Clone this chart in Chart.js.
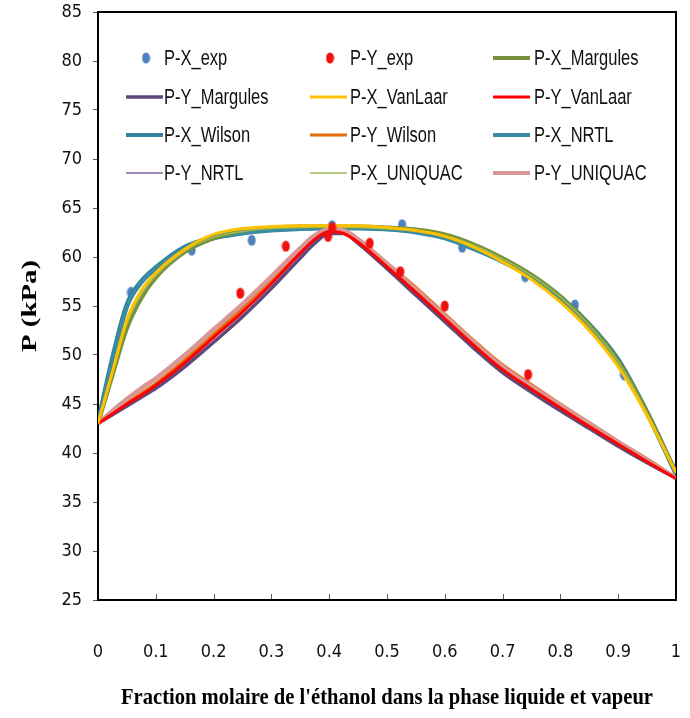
<!DOCTYPE html>
<html>
<head>
<meta charset="utf-8">
<script src="https://cdn.jsdelivr.net/npm/chart.js@4.4.1/dist/chart.umd.min.js"></script>
<style>
  html, body { margin: 0; padding: 0; background: #fff; }
  #wrap { width: 690px; height: 718px; }
</style>
</head>
<body>
<div id="wrap"><canvas id="c" width="690" height="718"></canvas></div>
<script>
// Ethanol mole fraction grid used by every model curve
const xModel = [0, 0.025, 0.05, 0.075, 0.1, 0.15, 0.2, 0.25, 0.3, 0.35, 0.375, 0.4, 0.425, 0.45, 0.5, 0.55, 0.6, 0.65, 0.7, 0.75, 0.8, 0.85, 0.9, 0.95, 1];

// Bubble-point curves P(x), kPa
const pxMargules = [43.0, 47.9, 52.7, 55.8, 57.9, 60.5, 61.9, 62.7, 63.0, 63.1, 63.1, 63.1, 63.1, 63.1, 63.0, 62.8, 62.3, 61.3, 59.9, 58.2, 56.0, 53.1, 49.4, 44.2, 38.0];
const pxVanLaar  = [43.0, 48.3, 53.6, 56.6, 58.4, 60.8, 62.3, 62.9, 63.1, 63.2, 63.2, 63.2, 63.2, 63.2, 63.0, 62.7, 62.1, 61.0, 59.5, 57.7, 55.4, 52.5, 48.8, 43.8, 38.0];
const pxWilson   = [43.0, 49.6, 55.1, 57.5, 58.9, 61.0, 62.0, 62.5, 62.8, 62.9, 62.95, 63.0, 63.0, 63.0, 62.9, 62.6, 62.0, 60.9, 59.6, 58.0, 55.9, 53.1, 49.5, 44.1, 37.9];
const pxNRTL     = [43.0, 49.3, 54.9, 57.4, 58.8, 60.9, 61.9, 62.4, 62.7, 62.85, 62.9, 62.95, 62.95, 62.9, 62.8, 62.5, 61.9, 60.8, 59.5, 57.9, 55.8, 53.0, 49.4, 44.2, 37.9];
const pxUNIQUAC  = [43.0, 48.2, 53.2, 56.2, 58.1, 60.6, 62.0, 62.6, 62.9, 63.0, 63.05, 63.05, 63.05, 63.0, 62.9, 62.7, 62.2, 61.2, 59.8, 58.1, 55.9, 53.0, 49.3, 44.1, 38.0];

// Dew-point curves P(y), kPa
const pyMargules = [43.0, 43.9, 44.8, 45.7, 46.6, 48.8, 51.3, 53.9, 56.8, 59.9, 61.4, 62.4, 62.4, 61.4, 58.8, 56.1, 53.4, 50.7, 48.2, 46.2, 44.3, 42.5, 40.7, 39.0, 37.4];
const pyVanLaar  = [43.0, 44.0, 45.0, 45.9, 46.9, 49.2, 51.8, 54.4, 57.3, 60.4, 61.8, 62.6, 62.4, 61.5, 59.0, 56.4, 53.7, 51.0, 48.5, 46.5, 44.6, 42.7, 40.9, 39.1, 37.4];
const pyWilson   = [43.0, 44.1, 45.1, 46.1, 47.1, 49.5, 52.1, 54.8, 57.7, 60.7, 62.0, 62.7, 62.6, 61.8, 59.4, 56.9, 54.2, 51.5, 49.0, 47.0, 45.0, 43.1, 41.2, 39.4, 37.5];
const pyNRTL     = [43.0, 44.0, 45.0, 45.9, 46.9, 49.1, 51.7, 54.3, 57.2, 60.3, 61.7, 62.6, 62.5, 61.6, 59.1, 56.5, 53.8, 51.1, 48.6, 46.6, 44.6, 42.7, 40.9, 39.1, 37.4];
const pyUNIQUAC  = [43.0, 44.3, 45.5, 46.6, 47.6, 50.0, 52.6, 55.2, 58.0, 60.9, 62.2, 62.8, 62.7, 61.8, 59.3, 56.7, 54.0, 51.3, 48.8, 46.8, 44.9, 43.0, 41.1, 39.3, 37.4];

// Experimental points
const xExpLiquid = [0.057, 0.162, 0.266, 0.405, 0.526, 0.63, 0.739, 0.825, 0.91];
const pExpLiquid = [56.4, 60.7, 61.7, 63.2, 63.3, 61.0, 58.0, 55.1, 48.0];
const xExpVapour = [0.246, 0.325, 0.398, 0.405, 0.47, 0.523, 0.60, 0.744];
const pExpVapour = [56.3, 61.1, 62.1, 63.0, 61.4, 58.5, 55.0, 48.0];

// Axis ticks
const xTickValues = [0, 0.1, 0.2, 0.3, 0.4, 0.5, 0.6, 0.7, 0.8, 0.9, 1];
const yTickValues = [25, 30, 35, 40, 45, 50, 55, 60, 65, 70, 75, 80, 85];

const xTitle = "Fraction molaire de l'éthanol dans la phase liquide et vapeur";
const yTitle = 'P (kPa)';

const TICK_FONT = '"DejaVu Sans Condensed", "Liberation Sans", sans-serif';
const LEGEND_FONT = '"Liberation Sans", Arial, sans-serif';
const TITLE_FONT = '"Liberation Serif", "DejaVu Serif", serif';

function pairs(xs, ys) { return xs.map((x, i) => ({ x: x, y: ys[i] })); }

// Slightly tall oval marker
function makeDot(color) {
  const c = document.createElement('canvas');
  c.width = 9; c.height = 12;
  const g = c.getContext('2d');
  g.fillStyle = color;
  g.beginPath();
  g.ellipse(4.5, 6, 4, 5.5, 0, 0, Math.PI * 2);
  g.fill();
  return c;
}

function curve(label, ys, color, width, order) {
  return {
    label: label, data: pairs(xModel, ys), showLine: true,
    borderColor: color, backgroundColor: color, borderWidth: width,
    pointRadius: 0, pointHoverRadius: 0, cubicInterpolationMode: 'monotone',
    order: order
  };
}

const datasets = [
  { label: 'P-X_exp', data: pairs(xExpLiquid, pExpLiquid), showLine: false,
    pointStyle: makeDot('#4F81BD'), borderColor: '#4F81BD', backgroundColor: '#4F81BD', order: 11 },
  { label: 'P-Y_exp', data: pairs(xExpVapour, pExpVapour), showLine: false,
    pointStyle: makeDot('#F01010'), borderColor: '#F01010', backgroundColor: '#F01010', order: 0 },
  curve('P-X_Margules', pxMargules, '#76923C', 4, 7),
  curve('P-Y_Margules', pyMargules, '#5F497A', 3.5, 8),
  curve('P-X_VanLaar', pxVanLaar, '#FFC000', 3, 1),
  curve('P-Y_VanLaar', pyVanLaar, '#FF0000', 3, 2),
  curve('P-X_Wilson', pxWilson, '#31849B', 5, 10),
  curve('P-Y_Wilson', pyWilson, '#E46C0A', 3, 6),
  curve('P-X_NRTL', pxNRTL, '#3A8CA2', 4, 9),
  curve('P-Y_NRTL', pyNRTL, '#8064A2', 1.5, 5),
  curve('P-X_UNIQUAC', pxUNIQUAC, '#9BBB59', 1.5, 4),
  curve('P-Y_UNIQUAC', pyUNIQUAC, '#DA9694', 4.5, 3)
];

// Black frame around the plot area plus inward tick marks on the x axis
const framePlugin = {
  id: 'frame',
  beforeDatasetsDraw(chart) {
    const { ctx, chartArea: a } = chart;
    const xs = chart.scales.x;
    ctx.save();
    ctx.strokeStyle = '#595959';
    ctx.lineWidth = 1;
    xs.ticks.forEach((t, i) => {
      const px = Math.round(xs.getPixelForTick(i)) + 0.5;
      ctx.beginPath();
      ctx.moveTo(px, a.bottom);
      ctx.lineTo(px, a.bottom - 6);
      ctx.stroke();
    });
    ctx.strokeStyle = '#000';
    ctx.lineWidth = 2;
    ctx.strokeRect(a.left, a.top, a.right - a.left, a.bottom - a.top);
    ctx.restore();
  }
};

// Condensed text helper (horizontal squeeze about the anchor)
function squeezedText(ctx, text, x, y, squeeze) {
  ctx.save();
  ctx.translate(x, y);
  ctx.scale(squeeze, 1);
  ctx.fillText(text, 0, 0);
  ctx.restore();
}

// Three-column legend inside the plot area
const legendPlugin = {
  id: 'gridLegend',
  afterDatasetsDraw(chart) {
    const ctx = chart.ctx;
    const lineStart = [126, 310, 493];
    const textStart = [164, 350, 534];
    const rowY = [58, 97, 135, 173];
    ctx.save();
    ctx.font = '22px ' + LEGEND_FONT;
    ctx.textBaseline = 'middle';
    ctx.textAlign = 'left';
    chart.data.datasets.forEach((ds, i) => {
      const col = i % 3, row = Math.floor(i / 3);
      const y = rowY[row];
      if (ds.showLine) {
        ctx.strokeStyle = ds.borderColor;
        ctx.lineWidth = Math.min(ds.borderWidth, 4);
        ctx.beginPath();
        ctx.moveTo(lineStart[col], y);
        ctx.lineTo(lineStart[col] + 37, y);
        ctx.stroke();
      } else {
        const img = ds.pointStyle;
        ctx.drawImage(img, lineStart[col] + 20 - img.width / 2, y - img.height / 2);
      }
      ctx.fillStyle = '#111';
      squeezedText(ctx, ds.label, textStart[col], y + 1, 0.75);
    });
    ctx.restore();
  }
};

// Condensed bold serif axis titles
function drawSqueezed(ctx, text, cx, cy, fontPx, targetLen, vertical) {
  ctx.save();
  ctx.font = 'bold ' + fontPx + 'px ' + TITLE_FONT;
  const w = ctx.measureText(text).width;
  ctx.translate(cx, cy);
  if (vertical) ctx.rotate(-Math.PI / 2);
  ctx.scale(targetLen / w, 1);
  ctx.textAlign = 'center';
  ctx.textBaseline = 'middle';
  ctx.fillStyle = '#000';
  ctx.fillText(text, 0, 0);
  ctx.restore();
}
const titlePlugin = {
  id: 'axisTitles',
  afterDraw(chart) {
    const a = chart.chartArea;
    drawSqueezed(chart.ctx, xTitle, (a.left + a.right) / 2, 698, 24, 532, false);
    drawSqueezed(chart.ctx, yTitle, 30, (a.top + a.bottom) / 2, 22, 92, true);
  }
};

new Chart(document.getElementById('c'), {
  type: 'scatter',
  data: { datasets: datasets },
  options: {
    responsive: false,
    animation: false,
    events: [],
    layout: { padding: { top: 12, right: 14, left: 0, bottom: 0 } },
    plugins: { legend: { display: false }, tooltip: { enabled: false } },
    scales: {
      x: {
        type: 'linear', min: 0, max: 1,
        afterBuildTicks(scale) { scale.ticks = xTickValues.map(v => ({ value: v })); },
        afterFit(scale) { scale.height = 118; scale.paddingLeft = 0; scale.paddingRight = 0; },
        ticks: { padding: 42, color: '#111', font: { family: TICK_FONT, size: 18 },
                 callback: v => String(v) },
        grid: { drawOnChartArea: false, drawTicks: false, display: false },
        border: { display: false }
      },
      y: {
        type: 'linear', min: 25, max: 85,
        afterBuildTicks(scale) { scale.ticks = yTickValues.map(v => ({ value: v })); },
        afterFit(scale) { scale.width = 98; scale.paddingTop = 0; scale.paddingBottom = 0; },
        ticks: { padding: 11, color: '#111', font: { family: TICK_FONT, size: 18 },
                 callback: v => String(v) },
        grid: { drawOnChartArea: false, drawTicks: true, tickLength: 5, color: '#595959' },
        border: { display: false }
      }
    }
  },
  plugins: [framePlugin, legendPlugin, titlePlugin]
});
</script>
</body>
</html>
